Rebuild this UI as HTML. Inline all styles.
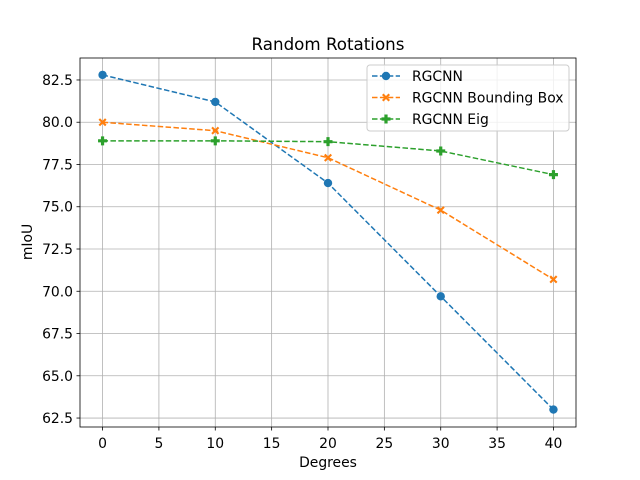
<!DOCTYPE html>
<html><head><meta charset="utf-8"><style>
body{margin:0;background:#fff}
svg{display:block;font-family:"DejaVu Sans","Liberation Sans",sans-serif}
</style></head><body>
<svg id="chart" width="640" height="480">
<rect width="640" height="480" fill="#fff"/>
<text x="328" y="50" font-size="16.7" text-anchor="middle">Random Rotations</text>
<g id="grid"></g><g id="axes"></g><g id="series"></g>
<text x="328" y="467" font-size="13.9" text-anchor="middle">Degrees</text>
<text x="32" y="242" font-size="13.9" text-anchor="middle" transform="rotate(-90 32 242)">mIoU</text>
<g id="legend"></g>
</svg>
<script>
const categories=[0,10,20,30,40];
const rgcnn=[82.8,81.2,76.4,69.7,63.0];
const rgcnnBB=[80.0,79.5,77.9,74.8,70.7];
const rgcnnEig=[78.9,78.9,78.85,78.3,76.9];
const xTicks=[0,5,10,15,20,25,30,35,40];
const yTicks=[62.5,65.0,67.5,70.0,72.5,75.0,77.5,80.0,82.5];
const seriesNames=["RGCNN","RGCNN Bounding Box","RGCNN Eig"];

const L=80,R=576,T=58,B=427;
const xMin=-2,xMax=42,yMin=61.97,yMax=83.8;
const X=v=>L+(v-xMin)/(xMax-xMin)*(R-L);
const Y=v=>B-(v-yMin)/(yMax-yMin)*(B-T);
const NS="http://www.w3.org/2000/svg";
function mk(tag,attrs,parent){const e=document.createElementNS(NS,tag);for(const k in attrs)e.setAttribute(k,attrs[k]);parent.appendChild(e);return e;}
const grid=document.getElementById('grid'),axes=document.getElementById('axes'),ser=document.getElementById('series'),leg=document.getElementById('legend');
xTicks.forEach(t=>{const x=X(t);
 let g=mk('line',{x1:x,x2:x,y1:T,y2:B,stroke:'#b0b0b0','stroke-width':0.8},grid);
 
 mk('line',{x1:x,x2:x,y1:B,y2:B+3.5,stroke:'#000','stroke-width':0.8},axes);
 let tx=mk('text',{x:x,y:B+21,'font-size':13.9,'text-anchor':'middle'},axes);tx.textContent=t;
 });
yTicks.forEach(t=>{const y=Y(t);
 let g=mk('line',{x1:L,x2:R,y1:y,y2:y,stroke:'#b0b0b0','stroke-width':0.8},grid);
 
 mk('line',{x1:L-3.5,x2:L,y1:y,y2:y,stroke:'#000','stroke-width':0.8},axes);
 let tx=mk('text',{x:L-7,y:y+5,'font-size':13.9,'text-anchor':'end'},axes);tx.textContent=t.toFixed(1);
 });
let fr=mk('rect',{x:L,y:T,width:R-L,height:B-T,fill:'none',stroke:'#000','stroke-width':0.8},axes);


const colors=['#1f77b4','#ff7f0e','#2ca02c'];
function marker(type,x,y,c,p){
 if(type===0)return mk('circle',{cx:x,cy:y,r:4.2,fill:c},p);
 if(type===1)return mk('path',{d:`M${x-4},${y-2.5}L${x-2.5},${y-4}L${x},${y-1.5}L${x+2.5},${y-4}L${x+4},${y-2.5}L${x+1.5},${y}L${x+4},${y+2.5}L${x+2.5},${y+4}L${x},${y+1.5}L${x-2.5},${y+4}L${x-4},${y+2.5}L${x-1.5},${y}Z`,fill:c},p);
 return mk('path',{d:`M${x-1.6},${y-4.5}h3.2v2.9h2.9v3.2h-2.9v2.9h-3.2v-2.9h-2.9v-3.2h2.9Z`,fill:c},p);
}
[rgcnn,rgcnnBB,rgcnnEig].forEach((d,i)=>{
 const pts=categories.map((c,j)=>X(c)+','+Y(d[j])).join(' ');
 let pl=mk('polyline',{points:pts,fill:'none',stroke:colors[i],'stroke-width':1.5,'stroke-dasharray':'5.5,2.4'},ser);
 
 categories.forEach((c,j)=>{let m=marker(i,X(c),Y(d[j]),colors[i],ser);
  });
});
mk('rect',{x:367,y:65,width:202,height:66,rx:3,fill:'#fff','fill-opacity':0.8,stroke:'#ccc'},leg);
seriesNames.forEach((n,i)=>{const y=76+i*21.5;
 let g=mk('g',{},leg);
 mk('line',{x1:372,x2:400,y1:y,y2:y,stroke:colors[i],'stroke-width':1.5,'stroke-dasharray':'5.5,2.4'},g);
 marker(i,386,y,colors[i],g);
 let t=mk('text',{x:412,y:y+5,'font-size':13.9},g);t.textContent=n;});
</script>
</body></html>
